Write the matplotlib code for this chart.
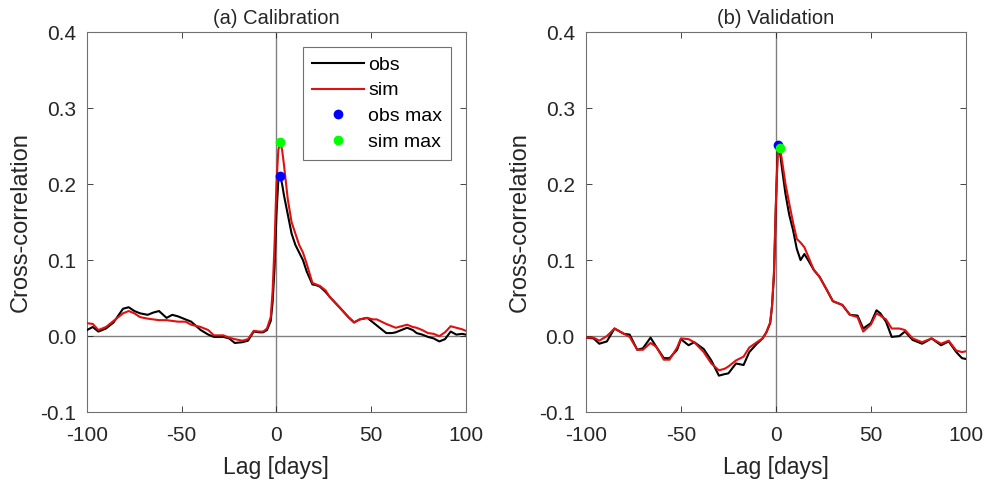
import numpy as np
import matplotlib.pyplot as plt

plt.rcParams['font.family'] = ['Liberation Sans', 'DejaVu Sans']
plt.rcParams['axes.unicode_minus'] = False

# panel (a) calibration
lag_a = [-100, -97, -94, -90, -86, -81, -78, -75, -72, -68, -65, -62, -58, -55, -52, -48, -45, -40,
         -36, -33, -28, -25, -22, -18, -15, -12, -9, -7, -5, -3, -2, -1, 0, 1, 2, 3, 4, 6, 8, 10,
         12, 14, 16, 19, 21, 23, 26, 28, 31, 34, 38, 41, 44, 48, 51, 53, 58, 61, 63, 66, 69, 72,
         74, 77, 80, 83, 86, 89, 92, 95, 98, 100]
obs_a = [0.008, 0.012, 0.006, 0.010, 0.018, 0.036, 0.038, 0.033, 0.030, 0.028, 0.031, 0.033,
         0.024, 0.028, 0.026, 0.022, 0.019, 0.008, 0.002, -0.001, -0.001, -0.003, -0.009, -0.008,
         -0.006, 0.006, 0.005, 0.005, 0.008, 0.020, 0.045, 0.090, 0.160, 0.205, 0.211, 0.200,
         0.185, 0.160, 0.135, 0.120, 0.110, 0.100, 0.085, 0.068, 0.067, 0.065, 0.058, 0.052,
         0.044, 0.036, 0.025, 0.018, 0.022, 0.024, 0.018, 0.014, 0.004, 0.004, 0.005, 0.008,
         0.011, 0.008, 0.004, 0.002, -0.001, -0.003, -0.007, -0.004, 0.006, 0.002, 0.003, 0.002]
sim_a = [0.017, 0.016, 0.008, 0.012, 0.020, 0.030, 0.033, 0.030, 0.025, 0.023, 0.022, 0.021,
         0.021, 0.020, 0.019, 0.019, 0.015, 0.012, 0.008, 0.001, 0.001, -0.002, -0.004, -0.006,
         -0.004, 0.007, 0.006, 0.006, 0.010, 0.025, 0.060, 0.120, 0.200, 0.245, 0.255, 0.245,
         0.225, 0.180, 0.150, 0.135, 0.120, 0.110, 0.095, 0.070, 0.068, 0.066, 0.060, 0.052,
         0.044, 0.036, 0.025, 0.018, 0.022, 0.024, 0.022, 0.022, 0.016, 0.013, 0.011, 0.013,
         0.015, 0.012, 0.011, 0.008, 0.004, 0.003, 0.000, 0.005, 0.013, 0.011, 0.009, 0.007]

# panel (b) validation
lag_b = [-100, -96, -93, -89, -85, -80, -77, -73, -70, -66, -63, -59, -56, -52, -50, -46, -43,
         -38, -34, -30, -27, -25, -21, -17, -14, -10, -7, -5, -3, -2, -1, 0, 1, 2, 3, 5, 7, 9,
         11, 13, 15, 17, 20, 23, 27, 30, 35, 39, 43, 46, 50, 53, 55, 58, 61, 65, 68, 72, 77, 82,
         87, 91, 95, 98, 100]
obs_b = [-0.002, -0.003, -0.010, -0.007, 0.010, 0.003, 0.002, -0.018, -0.016, -0.002, -0.014,
         -0.029, -0.029, -0.018, -0.004, -0.012, -0.008, -0.017, -0.032, -0.052, -0.050, -0.049,
         -0.036, -0.038, -0.021, -0.010, -0.003, 0.005, 0.017, 0.040, 0.080, 0.170, 0.252, 0.245,
         0.225, 0.188, 0.160, 0.140, 0.115, 0.100, 0.108, 0.100, 0.087, 0.078, 0.060, 0.046,
         0.041, 0.028, 0.027, 0.010, 0.017, 0.034, 0.030, 0.019, -0.001, 0.000, 0.006, -0.005,
         -0.010, -0.003, -0.012, -0.007, -0.021, -0.029, -0.030]
sim_b = [-0.002, -0.002, -0.006, 0.000, 0.010, 0.003, -0.001, -0.018, -0.018, -0.009, -0.014,
         -0.031, -0.031, -0.015, -0.003, -0.004, -0.008, -0.021, -0.036, -0.045, -0.043, -0.040,
         -0.032, -0.027, -0.015, -0.008, -0.003, 0.005, 0.018, 0.040, 0.085, 0.175, 0.240, 0.248,
         0.235, 0.201, 0.175, 0.150, 0.128, 0.123, 0.117, 0.105, 0.087, 0.078, 0.060, 0.046,
         0.041, 0.028, 0.025, 0.006, 0.015, 0.030, 0.027, 0.022, 0.010, 0.010, 0.008, -0.003,
         -0.008, -0.003, -0.010, -0.006, -0.019, -0.021, -0.020]

titles = ['(a) Calibration', '(b) Validation']
panels = [(lag_a, obs_a, sim_a), (lag_b, obs_b, sim_b)]

fig = plt.figure(figsize=(9.89, 4.86), dpi=100)
ax_a = fig.add_axes([0.088, 0.152, 0.383, 0.782])
ax_b = fig.add_axes([0.5925, 0.152, 0.384, 0.782])

for ax, (lag, obs, sim), title in zip([ax_a, ax_b], panels, titles):
    lag = np.array(lag)
    obs = np.array(obs)
    sim = np.array(sim)
    ax.axhline(0, color='#808080', lw=1.0, zorder=1)
    ax.axvline(0, color='#808080', lw=1.0, zorder=1)
    ax.plot(lag, obs, color='black', lw=1.5, label='obs', zorder=3)
    ax.plot(lag, sim, color='#e01010', lw=1.5, label='sim', zorder=3)
    io = np.argmax(obs)
    isim = np.argmax(sim)
    ax.plot(lag[io], obs[io], 'o', color='#0000ff', ms=6, label='obs max', zorder=4)
    ax.plot(lag[isim], sim[isim], 'o', color='#00ff00', ms=6, label='sim max', zorder=4)
    ax.set_xlim(-100, 100)
    ax.set_ylim(-0.1, 0.4)
    ax.set_xticks([-100, -50, 0, 50, 100])
    ax.set_yticks([-0.1, 0.0, 0.1, 0.2, 0.3, 0.4])
    ax.set_yticklabels(['-0.1', '0.0', '0.1', '0.2', '0.3', '0.4'])
    ax.tick_params(direction='in', top=True, right=True, labelsize=15,
                   colors='#262626', length=4, width=0.6)
    ax.tick_params(axis='x', pad=10)
    ax.tick_params(axis='y', pad=8)
    for s in ax.spines.values():
        s.set_color('#707070')
        s.set_linewidth(0.8)
    ax.set_xlabel('Lag [days]', fontsize=16.5, color='#262626', labelpad=8)
    ax.set_ylabel('Cross-correlation', fontsize=17, color='#262626', labelpad=6)
    ax.set_title(title, fontsize=14.5, color='#262626', pad=6)

leg = ax_a.legend(loc='upper right', bbox_to_anchor=(0.96, 0.96), borderaxespad=0, fontsize=14,
                  fancybox=False, framealpha=1, edgecolor='#707070',
                  handlelength=2.7, handletextpad=0.2, borderpad=0.45, labelspacing=0.42)
leg.get_frame().set_linewidth(0.8)

fig.savefig('out.png', dpi=100)
